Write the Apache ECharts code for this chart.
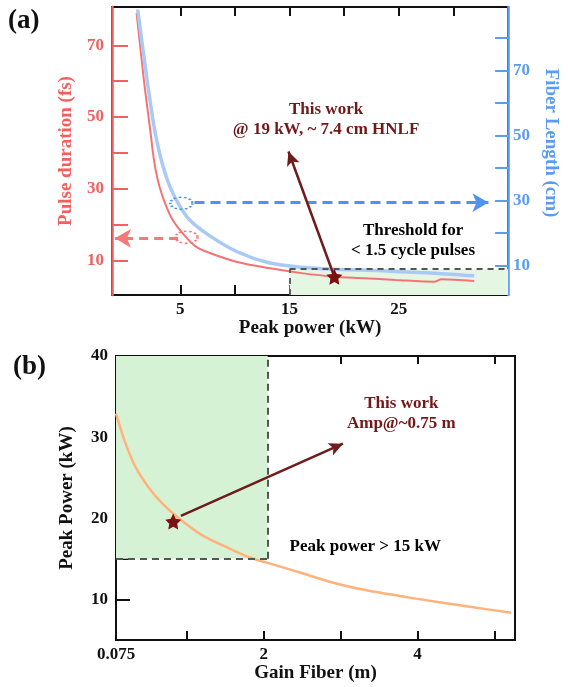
<!DOCTYPE html>
<html><head><meta charset="utf-8">
<script src="https://cdn.jsdelivr.net/npm/echarts@6/dist/echarts.min.js"></script>
<style>html,body{margin:0;padding:0;background:#fff}#c{width:568px;height:687px}</style>
</head><body><div id="c"></div>
<script>
// ---- Panel (a) data ----
const pulsePower = [1.0, 1.7, 2.13, 2.32, 2.5, 2.74, 3.1, 3.6, 4.29, 5.5, 6.43, 7.7, 10.2, 13.1, 16.1, 19.1, 21.8, 24.7, 28.3, 28.9, 31.9];
const pulseDuration = [79, 59.5, 49.2, 44.6, 40.0, 35.3, 30.6, 26.0, 21.4, 16.6, 13.9, 12.1, 9.6, 7.9, 6.5, 5.5, 5.1, 4.6, 4.1, 4.8, 4.3];
const fiberPower = [1.1, 2.0, 2.5, 2.77, 3.1, 3.52, 4.05, 4.8, 5.84, 7.6, 10.2, 13.1, 16.1, 19.1, 21.8, 24.7, 28.3, 31.9];
const fiberLength = [88.7, 66.1, 54.8, 49.7, 44.6, 39.4, 34.3, 29.2, 24.1, 19.4, 14.3, 10.9, 9.5, 8.9, 8.7, 8.2, 7.7, 6.9];
const aXTicks = [5, 10, 15, 20, 25, 30];
const aXLabels = [5, 15, 25];
const aYLeftTicks = [10, 20, 30, 40, 50, 60, 70];
const aYRightTicks = [10, 20, 30, 40, 50, 60, 70, 80];
const aYLabels = [10, 30, 50, 70];
const thisWorkA = [19.1, 5.5];
const thresholdPower = 15;
const thresholdDuration = 7.6;
// ---- Panel (b) data ----
const gainLength = [0.075, 0.2, 0.33, 0.5, 0.68, 0.9, 1.2, 1.5, 1.81, 2.16, 2.51, 2.94, 3.37, 3.98, 4.68, 5.22];
const peakPowerB = [32.9, 29.2, 26.3, 23.8, 21.8, 19.95, 17.9, 16.5, 15.2, 14.2, 13.2, 11.97, 11.06, 10.1, 9.1, 8.35];
const bXTicks = [1, 2, 3, 4, 5];
const bXLabels = [0.075, 2, 4];
const bYTicks = [10, 15, 20, 25, 30, 35];
const bYLabels = [10, 20, 30, 40];
const thisWorkB = [0.82, 19.6];
const gainLimit = 2.05;
const powerLimit = 15;

const zip = (a, b) => a.map((v, i) => [v, b[i]]);
const FONT = 'Liberation Serif';
const RED = '#f25f5f', BLUE = '#5b9cf2', DARK = '#731818', STAR = '#7d1010';
const starPath = 'path://M0,-10 L2.9,-4 9.5,-3.1 4.7,1.5 5.9,8.1 0,5 -5.9,8.1 -4.7,1.5 -9.5,-3.1 -2.9,-4 Z';
const lbl = (color) => ({fontFamily: FONT, fontWeight: 'bold', fontSize: 16, color});
const txt = (color, size) => ({show: true, position: 'inside', ...lbl(color), fontSize: size, lineHeight: 20,
  align: 'center', verticalAlign: 'middle', textBorderWidth: 0, textShadowBlur: 0, opacity: 1});

const chart = echarts.init(document.getElementById('c'), null, {renderer: 'canvas'});
chart.setOption({
  animation: false,
  grid: [
    {left: 112, top: 7, width: 406, height: 288, show: true, borderColor: '#111', borderWidth: 2},
    {left: 116, top: 356, width: 399, height: 284, show: true, borderColor: '#111', borderWidth: 2}
  ],
  xAxis: [
    {gridIndex: 0, type: 'value', min: -1.25, max: 35, position: 'bottom',
     splitLine: {show: false}, axisLine: {show: false, onZero: false},
     axisTick: {inside: true, length: 10, lineStyle: {color: '#111', width: 2}, customValues: aXTicks},
     axisLabel: {customValues: aXLabels, ...lbl('#111'), fontSize: 17, margin: 6},
     name: 'Peak power (kW)', nameLocation: 'middle', nameGap: 22,
     nameTextStyle: {fontFamily: FONT, fontWeight: 'bold', fontSize: 19, color: '#111'}},
    {gridIndex: 0, type: 'value', min: -1.25, max: 35, position: 'top',
     splitLine: {show: false}, axisLine: {show: false, onZero: false},
     axisTick: {inside: true, length: 9, lineStyle: {color: '#111', width: 2}, customValues: aXTicks},
     axisLabel: {show: false}},
    {gridIndex: 1, type: 'value', min: 0.075, max: 5.27, position: 'bottom',
     splitLine: {show: false}, axisLine: {show: false, onZero: false},
     axisTick: {inside: true, length: 9, lineStyle: {color: '#111', width: 2}, customValues: bXTicks},
     axisLabel: {customValues: bXLabels, ...lbl('#111'), fontSize: 17, margin: 6},
     name: 'Gain Fiber (m)', nameLocation: 'middle', nameGap: 23,
     nameTextStyle: {fontFamily: FONT, fontWeight: 'bold', fontSize: 19, color: '#111'}},
    {gridIndex: 1, type: 'value', min: 0.075, max: 5.27, position: 'top',
     splitLine: {show: false}, axisLine: {show: false, onZero: false},
     axisTick: {inside: true, length: 8, lineStyle: {color: '#111', width: 2}, customValues: bXTicks},
     axisLabel: {show: false}}
  ],
  yAxis: [
    {gridIndex: 0, type: 'value', min: 0.4, max: 80.7, position: 'left',
     splitLine: {show: false}, axisLine: {show: true, onZero: false, lineStyle: {color: RED, width: 2.5}},
     axisTick: {inside: true, length: 16, lineStyle: {color: RED, width: 2}, customValues: aYLeftTicks},
     axisLabel: {customValues: aYLabels, ...lbl(RED), fontSize: 17, margin: 8},
     name: 'Pulse duration (fs)', nameLocation: 'middle', nameGap: 36,
     nameTextStyle: {fontFamily: FONT, fontWeight: 'bold', fontSize: 19, color: RED}},
    {gridIndex: 0, type: 'value', min: 1, max: 89.5, position: 'right',
     splitLine: {show: false}, axisLine: {show: true, onZero: false, lineStyle: {color: BLUE, width: 2.5}},
     axisTick: {inside: true, length: 13, lineStyle: {color: BLUE, width: 2}, customValues: aYRightTicks},
     axisLabel: {customValues: aYLabels, ...lbl(BLUE), fontSize: 17, margin: 5},
     name: 'Fiber Length (cm)', nameLocation: 'middle', nameGap: 28, nameRotate: -90,
     nameTextStyle: {fontFamily: FONT, fontWeight: 'bold', fontSize: 19, color: BLUE, padding: [0, 16, 0, 0]}},
    {gridIndex: 1, type: 'value', min: 5, max: 40, position: 'left',
     splitLine: {show: false}, axisLine: {show: false, onZero: false},
     axisTick: {inside: true, length: 14, lineStyle: {color: '#111', width: 2}, customValues: bYTicks},
     axisLabel: {customValues: bYLabels, ...lbl('#111'), fontSize: 17, margin: 8},
     name: 'Peak Power (kW)', nameLocation: 'middle', nameGap: 39,
     nameTextStyle: {fontFamily: FONT, fontWeight: 'bold', fontSize: 19, color: '#111'}}
  ],
  graphic: [
    {type: 'text', left: 8, top: 8, style: {text: '(a)', font: 'bold 27px "Liberation Serif"', fill: '#111'}},
    {type: 'text', left: 13, top: 354, style: {text: '(b)', font: 'bold 27px "Liberation Serif"', fill: '#111'}}
  ],
  series: [
    // threshold region (a)
    {type: 'line', xAxisIndex: 0, yAxisIndex: 0, data: [], z: 1, silent: true,
     markArea: {silent: true, itemStyle: {color: '#e5f6e3'},
       data: [[{coord: [thresholdPower, 0.4]}, {coord: [35, thresholdDuration]}]]},
     markLine: {silent: true, symbol: 'none', label: {show: false},
       lineStyle: {color: '#555', type: [6, 5], width: 1.8},
       data: [[{coord: [thresholdPower, 0.4]}, {coord: [thresholdPower, thresholdDuration]}],
              [{coord: [thresholdPower, thresholdDuration]}, {coord: [35, thresholdDuration]}]]}},
    {type: 'line', name: 'Pulse duration', xAxisIndex: 0, yAxisIndex: 0, z: 3,
     data: zip(pulsePower, pulseDuration), smooth: 0.3, symbol: 'none',
     lineStyle: {color: '#f47474', width: 2},
     markLine: {silent: true, symbol: ['none', 'arrow'], symbolSize: [14, 16], label: {show: false},
       lineStyle: {color: '#f47a7a', type: [9, 6], width: 3},
       data: [[{coord: [4.8, 16.2]}, {coord: [-0.98, 16.2]}]]}},
    {type: 'line', name: 'Fiber length', xAxisIndex: 0, yAxisIndex: 1, z: 3,
     data: zip(fiberPower, fiberLength), smooth: 0.3, symbol: 'none',
     lineStyle: {color: '#a9c9f7', width: 3.5},
     markLine: {silent: true, symbol: ['none', 'arrow'], symbolSize: [14, 16], label: {show: false},
       lineStyle: {color: '#4f93f0', type: [10, 6], width: 3},
       data: [[{coord: [6.3, 29.4]}, {coord: [33.2, 29.4]}]]}},
    {type: 'scatter', xAxisIndex: 0, yAxisIndex: 0, z: 4, data: [[5.57, 16.5]],
     symbol: 'circle', symbolSize: [22, 12],
     itemStyle: {opacity: 1, color: 'rgba(0,0,0,0)', borderColor: '#f47a7a', borderWidth: 2, borderType: 'dotted'}},
    {type: 'scatter', xAxisIndex: 0, yAxisIndex: 1, z: 4, data: [[5.1, 29.2]],
     symbol: 'circle', symbolSize: [22, 12],
     itemStyle: {opacity: 1, color: 'rgba(0,0,0,0)', borderColor: '#4f93f0', borderWidth: 2, borderType: 'dotted'}},
    {type: 'scatter', xAxisIndex: 0, yAxisIndex: 0, z: 5, data: [thisWorkA],
     symbol: starPath, symbolSize: 16, itemStyle: {color: STAR, opacity: 1},
     markLine: {silent: true, symbol: ['none', 'arrow'], symbolSize: [10, 14], label: {show: false},
       lineStyle: {color: '#6e1c1c', type: 'solid', width: 2.5},
       data: [[{coord: thisWorkA}, {coord: [14.9, 40.4]}]]}},
    {type: 'scatter', xAxisIndex: 0, yAxisIndex: 0, z: 6, symbolSize: 1,
     itemStyle: {color: 'rgba(255,255,255,0)', opacity: 1},
     data: [
       {value: [18.34, 49.2], label: {...txt(DARK, 17), formatter: 'This work\n@ 19 kW, ~ 7.4 cm HNLF'}},
       {value: [26.3, 15.5], label: {...txt('#000', 17), formatter: 'Threshold for\n< 1.5 cycle pulses'}}
     ]},
    // Panel (b)
    {type: 'line', xAxisIndex: 2, yAxisIndex: 2, data: [], z: 1, silent: true,
     markArea: {silent: true, itemStyle: {color: '#d6f2d4'},
       data: [[{coord: [0.075, powerLimit]}, {coord: [gainLimit, 40]}]]},
     markLine: {silent: true, symbol: 'none', label: {show: false},
       lineStyle: {color: '#555', type: [7, 5], width: 2},
       data: [[{coord: [gainLimit, powerLimit]}, {coord: [gainLimit, 40]}],
              [{coord: [0.075, powerLimit]}, {coord: [gainLimit, powerLimit]}]]}},
    {type: 'line', name: 'Peak power', xAxisIndex: 2, yAxisIndex: 2, z: 3,
     data: zip(gainLength, peakPowerB), smooth: 0.3, symbol: 'none',
     lineStyle: {color: '#ffb27c', width: 2.5}},
    {type: 'scatter', xAxisIndex: 2, yAxisIndex: 2, z: 5, data: [thisWorkB],
     symbol: starPath, symbolSize: 16, itemStyle: {color: STAR, opacity: 1},
     markLine: {silent: true, symbol: ['none', 'arrow'], symbolSize: [10, 14], label: {show: false},
       lineStyle: {color: '#6e1c1c', type: 'solid', width: 2.5},
       data: [[{coord: [0.92, 20.3]}, {coord: [3.03, 29.2]}]]}},
    {type: 'scatter', xAxisIndex: 2, yAxisIndex: 2, z: 6, symbolSize: 1,
     itemStyle: {color: 'rgba(255,255,255,0)', opacity: 1},
     data: [
       {value: [3.79, 32.9], label: {...txt(DARK, 17), formatter: 'This work\nAmp@~0.75 m'}},
       {value: [3.32, 16.5], label: {...txt('#000', 17), formatter: 'Peak power > 15 kW'}}
     ]}
  ]
});
</script></body></html>
